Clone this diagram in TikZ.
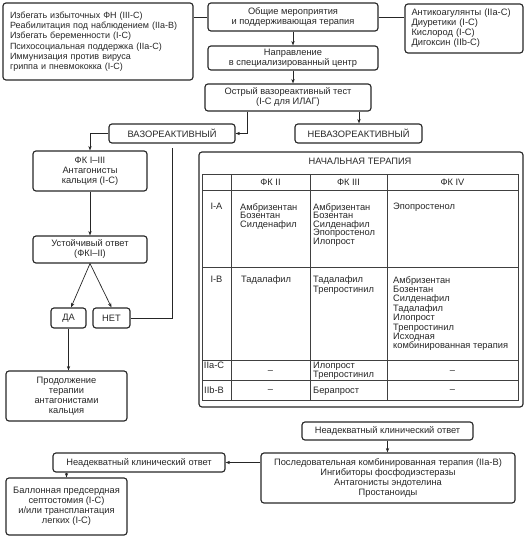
\documentclass[tikz,border=0pt]{standalone}
\usepackage{fontspec}
\setmainfont{Liberation Sans}
\usetikzlibrary{arrows.meta}
\newcommand\myfs{\fontsize{9.3}{10}\selectfont}
\newcommand\myfst{\fontsize{9.3}{9.3}\selectfont}
\begin{document}
\begin{tikzpicture}[x=1pt,y=-1pt,
  box/.style={draw=black!85, line width=1.15pt, rounded corners=3pt, inner sep=0pt, align=center, font=\myfs, text=black!85},
  arr/.style={-{Stealth[length=4.5pt,width=3.4pt]}, line width=0.7pt, draw=black!85},
  ln/.style={line width=0.7pt, draw=black!85},
  tl/.style={line width=0.6pt, draw=black!75},
  cell/.style={inner sep=0pt, align=left, font=\myfst, text=black!85, anchor=north west},
  lab/.style={inner sep=0pt, align=center, font=\myfst, text=black!85, anchor=north},
  ctr/.style={inner sep=0pt, align=center, font=\myfst, text=black!85}]
\useasboundingbox (0,0) rectangle (531,540);
% top row
\node[box, minimum width=190, minimum height=77, text width=176pt, align=left, font=\fontsize{9}{10.3}\selectfont] (lt) at (98,41.5)
  {Избегать избыточных ФН (III-C)\\Реабилитация под наблюдением (IIa-B)\\Избегать беременности (I-C)\\Психосоциальная поддержка (IIa-C)\\Иммунизация против вируса\\гриппа и пневмококка (I-C)};
\node[box, minimum width=170, minimum height=28] (gen) at (293,17) {Общие мероприятия\\и поддерживающая терапия};
\node[box, minimum width=118, minimum height=49, text width=105pt, align=left] (rt) at (464,28.5)
  {Антикоагулянты (IIa-C)\\Диуретики (I-C)\\Кислород (I-C)\\Дигоксин (IIb-C)};
\node[box, minimum width=170, minimum height=24] (napr) at (293,58) {Направление\\в специализированный центр};
\node[box, minimum width=166, minimum height=27] (ost) at (288,97.5) {Острый вазореактивный тест\\(I-C для ИЛАГ)};
\node[box, minimum width=126, minimum height=19] (vaz) at (172,133.5) {ВАЗОРЕАКТИВНЫЙ};
\node[box, minimum width=127, minimum height=19] (nevaz) at (358.5,133.5) {НЕВАЗОРЕАКТИВНЫЙ};
% left branch
\node[box, minimum width=114, minimum height=40] (fk) at (90,171) {ФК I–III\\Антагонисты\\кальция (I-C)};
\node[box, minimum width=114, minimum height=27] (ust) at (90,249.5) {Устойчивый ответ\\(ФКI–II)};
\node[box, minimum width=35, minimum height=20] (da) at (68.5,318) {ДА};
\node[box, minimum width=37, minimum height=20] (net) at (111.5,318) {НЕТ};
\node[box, minimum width=121, minimum height=50] (prod) at (66.5,396) {Продолжение\\терапии\\антагонистами\\кальция};
% table
\node[box, minimum width=324, minimum height=255] (tab) at (361,279.5) {};
\node[ctr, font=\myfs] (ttl) at (360,161) {НАЧАЛЬНАЯ ТЕРАПИЯ};
\draw[tl] (202,174) rectangle (518,400);
\foreach \yy in {190,267,360,380} \draw[tl] (202,\yy) -- (518,\yy);
\foreach \xx in {231,310,387} \draw[tl] (\xx,174) -- (\xx,400);
\node[ctr] (h2) at (270.5,182) {ФК II};
\node[ctr] (h3) at (348.5,182) {ФК III};
\node[ctr] (h4) at (452.5,182) {ФК IV};
\node[lab] (r1) at (216.5,203) {I-A};
\node[lab] (r2) at (216.5,276) {I-B};
\node[lab] (r3) at (214,362) {IIa-C};
\node[lab] (r4) at (214,386.5) {IIb-B};
\node[cell, font=\fontsize{9.3}{8.6}\selectfont] (c12) at (240,203) {Амбризентан\\Бозентан\\Силденафил};
\node[cell, font=\fontsize{9.3}{8.6}\selectfont] (c13) at (313,203) {Амбризентан\\Бозентан\\Силденафил\\Эпопростенол\\Илопрост};
\node[cell] (c14) at (393,203) {Эпопростенол};
\node[cell] (c22) at (241,276) {Тадалафил};
\node[cell, font=\fontsize{9.3}{9.4}\selectfont] (c23) at (313,276) {Тадалафил\\Трепростинил};
\node[cell, font=\fontsize{9.3}{9.4}\selectfont] (c24) at (393,276) {Амбризентан\\Бозентан\\Силденафил\\Тадалафил\\Илопрост\\Трепростинил\\Исходная\\комбинированная терапия};
\node[ctr] (c32) at (270.5,372) {–};
\node[cell, font=\fontsize{9.3}{8.6}\selectfont] (c33) at (313,362) {Илопрост\\Трепростинил};
\node[ctr] (c34) at (452.5,372) {–};
\node[ctr] (c42) at (270.5,391) {–};
\node[cell] (c43) at (313,386.5) {Берапрост};
\node[ctr] (c44) at (452.5,391) {–};
% bottom
\node[box, minimum width=171, minimum height=18] (nad1) at (387.5,431) {Неадекватный клинический ответ};
\node[box, minimum width=254, minimum height=50] (posl) at (388,478) {Последовательная комбинированная терапия (IIa-B)\\Ингибиторы фосфодиэстеразы\\Антагонисты эндотелина\\Простаноиды};
\node[box, minimum width=172, minimum height=19] (nad2) at (139,462.5) {Неадекватный клинический ответ};
\node[box, minimum width=121, minimum height=57] (ball) at (66.5,506.5) {Баллонная предсердная\\септостомия (I-C)\\и/или трансплантация\\легких (I-C)};
% connectors
\draw[ln] (gen.west) -- (gen.west -| lt.east);
\draw[ln] (gen.east) -- (gen.east -| rt.west);
\draw[arr] (gen.south) -- (napr.north);
\draw[arr] (napr.south) -- (napr.south |- ost.north);
\draw[arr] ([xshift=-41pt]ost.south) |- (vaz.east);
\draw[arr] ([xshift=71pt]ost.south) -- ([xshift=71pt]ost.south |- nevaz.north);
\draw[arr] (vaz.west) -| (fk.north);
\draw[arr] (fk.south) -- (ust.north);
\draw[arr] (ust.south) -- ([xshift=2.5pt]da.north);
\draw[arr] (ust.south) -- (net.north);
\draw[ln] (net.east) -| ([yshift=-4pt]vaz.south);
\draw[arr] (da.south) -- (da.south |- prod.north);
\draw[arr] (nad1.south) -- (nad1.south |- posl.north);
\draw[arr] (posl.west |- nad2.east) -- (nad2.east);
\draw[arr] (ball.north |- nad2.south) -- (ball.north);
\end{tikzpicture}
\end{document}
